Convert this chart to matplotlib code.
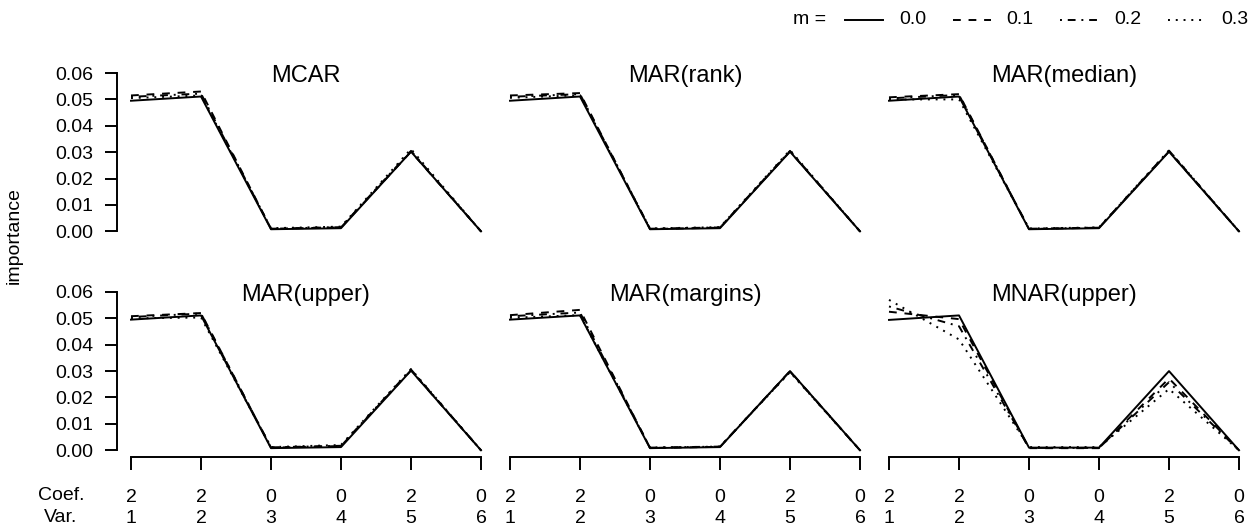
import numpy as np
import matplotlib
matplotlib.use("Agg")
import matplotlib.pyplot as plt
from matplotlib.lines import Line2D

plt.rcParams['font.family'] = ['Liberation Sans', 'DejaVu Sans']

### data
variables = [1, 2, 3, 4, 5, 6]
coefs = [2, 2, 0, 0, 2, 0]
m_values = ["0.0", "0.1", "0.2", "0.3"]
scenarios = ["MCAR", "MAR(rank)", "MAR(median)",
             "MAR(upper)", "MAR(margins)", "MNAR(upper)"]

# importance per variable, one row per m
mcar = [[0.0495, 0.0511, 0.0008, 0.0012, 0.0302, 0.0],
        [0.0515, 0.0530, 0.0010, 0.0015, 0.0302, 0.0],
        [0.0510, 0.0522, 0.0010, 0.0016, 0.0305, 0.0],
        [0.0505, 0.0515, 0.0012, 0.0018, 0.0312, 0.0]]
mar_rank = [[0.0495, 0.0511, 0.0008, 0.0012, 0.0302, 0.0],
            [0.0515, 0.0524, 0.0009, 0.0014, 0.0303, 0.0],
            [0.0510, 0.0520, 0.0010, 0.0015, 0.0305, 0.0],
            [0.0506, 0.0516, 0.0011, 0.0016, 0.0308, 0.0]]
mar_median = [[0.0495, 0.0511, 0.0008, 0.0012, 0.0302, 0.0],
              [0.0508, 0.0520, 0.0009, 0.0014, 0.0303, 0.0],
              [0.0504, 0.0517, 0.0010, 0.0014, 0.0306, 0.0],
              [0.0500, 0.0500, 0.0011, 0.0015, 0.0307, 0.0]]
mar_upper = [[0.0495, 0.0511, 0.0008, 0.0012, 0.0302, 0.0],
             [0.0508, 0.0520, 0.0010, 0.0016, 0.0303, 0.0],
             [0.0505, 0.0518, 0.0011, 0.0017, 0.0306, 0.0],
             [0.0500, 0.0503, 0.0012, 0.0020, 0.0308, 0.0]]
mar_margins = [[0.0495, 0.0511, 0.0008, 0.0012, 0.0300, 0.0],
               [0.0512, 0.0532, 0.0009, 0.0013, 0.0300, 0.0],
               [0.0508, 0.0522, 0.0010, 0.0014, 0.0298, 0.0],
               [0.0502, 0.0512, 0.0010, 0.0014, 0.0296, 0.0]]
mnar_upper = [[0.0494, 0.0511, 0.0010, 0.0010, 0.0300, 0.0],
              [0.0525, 0.0497, 0.0008, 0.0008, 0.0272, 0.0],
              [0.0545, 0.0470, 0.0009, 0.0009, 0.0258, 0.0],
              [0.0570, 0.0420, 0.0012, 0.0012, 0.0232, 0.0]]
panel_data = [mcar, mar_rank, mar_median, mar_upper, mar_margins, mnar_upper]

# R-like line types: solid, dashed, dotdash, dotted
line_styles = ['-', (0, (4, 4)), (0, (1, 3, 4, 3)), (0, (1, 3))]
LW = 1.4

W, H = 1251, 526
fig = plt.figure(figsize=(W / 100, H / 100), dpi=100)

def fig_box(left, top, width, height):
    return [left / W, 1 - (top + height) / H, width / W, height / H]

col_left = [117, 496, 875]
row_top = [66.7, 285.6]
ax_w, ax_h = 378, 171
ylim = (-0.0024, 0.0624)

for k, (name, rows) in enumerate(zip(scenarios, panel_data)):
    r, c = divmod(k, 3)
    ax = fig.add_axes(fig_box(col_left[c], row_top[r], ax_w, ax_h))
    for vals, ls in zip(rows, line_styles):
        ax.plot(variables, vals, color='black', lw=LW, linestyle=ls)
    ax.set_xlim(0.8, 6.2)
    ax.set_ylim(*ylim)
    ax.text(3.5, 0.0589, name, ha='center', va='center', fontsize=17)
    for s in ['top', 'right']:
        ax.spines[s].set_visible(False)
    ax.spines['left'].set_bounds(0, 0.06)
    ax.spines['bottom'].set_bounds(1, 6)
    ax.spines['left'].set_linewidth(1.4)
    ax.spines['bottom'].set_linewidth(1.4)
    ax.tick_params(width=1.4, length=9, labelsize=14)
    ax.tick_params(axis='y', pad=8)
    ax.tick_params(axis='x', pad=14.5)
    if c == 0:
        ax.set_yticks(np.arange(0, 0.061, 0.01))
        ax.set_yticklabels(["%.2f" % v for v in np.arange(0, 0.061, 0.01)])
    else:
        ax.spines['left'].set_visible(False)
        ax.set_yticks([])
    if r == 1:
        ax.set_xticks(variables)
        ax.set_xticklabels(["%d\n%d" % (cf, v) for cf, v in zip(coefs, variables)],
                           linespacing=1.28)
    else:
        ax.spines['bottom'].set_visible(False)
        ax.set_xticks([])
    ax.patch.set_visible(False)

fig.text(61 / W, 1 - 495 / H, "Coef.", ha='center', va='center', fontsize=14)
fig.text(61 / W, 1 - 518 / H, "Var.", ha='center', va='center', fontsize=14)
fig.text(14 / W, 1 - 236 / H, "importance", rotation=90,
         ha='center', va='center', fontsize=14)

# legend across the top
ly = 1 - 20 / H
fig.text(793 / W, ly, "m =", ha='left', va='center', fontsize=14)
for i, (lab, ls) in enumerate(zip(m_values, line_styles)):
    x0 = 845 + i * 107.5
    fig.add_artist(Line2D([x0 / W, (x0 + 38) / W], [ly, ly], color='black',
                          lw=LW, linestyle=ls, transform=fig.transFigure))
    fig.text((x0 + 54) / W, ly, lab, ha='left', va='center', fontsize=14)

fig.savefig("out.png", dpi=100)
